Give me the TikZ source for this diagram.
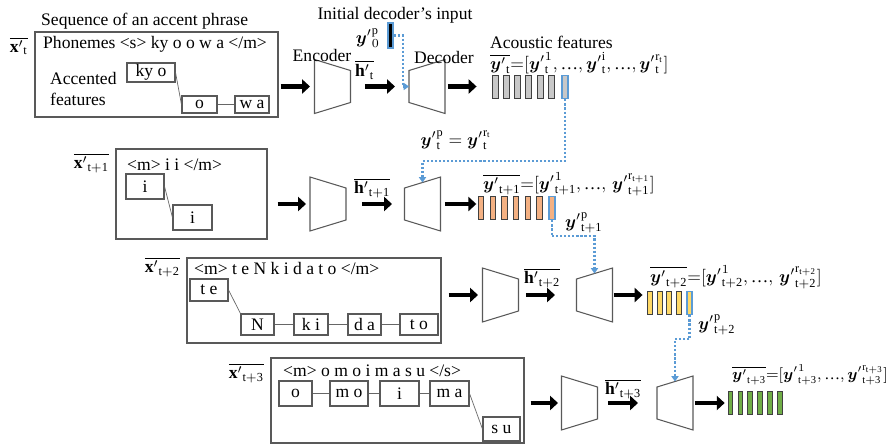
\documentclass[tikz,border=0pt]{standalone}
\usepackage{amsmath}
\usepackage{fontspec}
\setmainfont{Liberation Serif}
\usetikzlibrary{arrows.meta}

\definecolor{lineblue}{HTML}{5B9BD5}
\definecolor{bargray}{HTML}{C8C8C8}
\definecolor{barorange}{HTML}{F4B183}
\definecolor{baryellow}{HTML}{FFD966}
\definecolor{bargreen}{HTML}{70AD47}

\newcommand{\yp}{{\boldsymbol{y}'}}
\newcommand{\xp}{{\mathbf{x}'}}
\newcommand{\hp}{{\mathbf{h}'}}
\newcommand{\ellip}{\text{…}}

\begin{document}
\begin{tikzpicture}[
    x=0.02cm, y=-0.02cm,
    phrase/.style 2 args={draw=black!65, line width=0.7pt, minimum width={#1*0.02cm}, minimum height={#2*0.02cm}, inner sep=0pt},
    syl/.style 2 args={draw=black!65, line width=0.6pt, minimum width={#1*0.02cm}, minimum height={#2*0.02cm}, inner sep=0pt},
    link/.style={black!60, line width=0.4pt},
    coder/.style={minimum width=0.72cm, minimum height=1.08cm, inner sep=0pt, outer sep=0pt},
    coderline/.style={draw=black!65, line width=0.6pt, line join=miter},
    fat/.style={-{Triangle[length=4.5pt,width=8pt]}, line width=2.4pt},
    feed/.style={-{Triangle[length=3pt,width=4pt]}, lineblue, dash pattern=on 1.2pt off 1.1pt, line width=1.2pt},
    bar/.style={draw=black!75, line width=0.5pt, minimum width=#1, minimum height=0.46cm, inner sep=0pt},
    predbar/.style={draw=lineblue, line width=1pt},
]
    \useasboundingbox (0,0) rectangle (894,447);

    % Accent phrase t
    \node[anchor=west] (seq) at (35,21) {Sequence of an accent phrase};
    \node[phrase={243}{85}] (x1) at (156.5,74.5) {};
    \node[anchor=east] (x1lab) at (34,46) {$\overline{\xp_{\mathrm{t}}}$};
    \node[anchor=west] (ph1) at (37,44) {Phonemes <s> ky o o w a </m>};
    \node[anchor=west, align=left] (acc) at (44,89) {Accented\\features};
    \node[syl={48}{19}] (ky) at (151,72.5) {ky o};
    \node[syl={35}{17}] (o1) at (199.5,104.5) {o};
    \node[syl={34}{17}] (wa) at (252,104.5) {w a};
    \draw[link] (ky.east) -- (o1.west);
    \draw[link] (o1) -- (wa);

    % Accent phrase t+1
    \node[phrase={151}{90}] (x2) at (191.5,194) {};
    \node[anchor=east] (x2lab) at (115,163) {$\overline{\xp_{\mathrm{t+1}}}$};
    \node[anchor=west] (ph2) at (121,165) {<m> i i </m>};
    \node[syl={38}{25}] (i1) at (145,186.5) {i};
    \node[syl={39}{25}] (i2) at (192.5,217.5) {i};
    \draw[link] (i1.east) -- (i2.west);

    % Accent phrase t+2
    \node[phrase={254}{85}] (x3) at (314,300.5) {};
    \node[anchor=east] (x3lab) at (186,267) {$\overline{\xp_{\mathrm{t+2}}}$};
    \node[anchor=west] (ph3) at (188,268) {<m> t e N k i d a t o </m>};
    \node[syl={38}{22}] (te) at (209,290) {t e};
    \node[syl={33}{21}] (nn) at (257.5,324.5) {N};
    \node[syl={34}{21}] (ki) at (311,324.5) {k i};
    \node[syl={33}{21}] (da) at (364.5,324.5) {d a};
    \node[syl={38}{21}] (to) at (419,324.5) {t o};
    \draw[link] (te.east) -- (nn.north west);
    \draw[link] (nn) -- (ki);
    \draw[link] (ki) -- (da);
    \draw[link] (da) -- (to);

    % Accent phrase t+3
    \node[phrase={253}{85}] (x4) at (397.5,400.5) {};
    \node[anchor=east] (x4lab) at (270,373) {$\overline{\xp_{\mathrm{t+3}}}$};
    \node[anchor=west] (ph4) at (277,371) {<m> o m o i m a s u </s>};
    \node[syl={33}{25}] (oo) at (295.5,393.5) {o};
    \node[syl={38}{25}] (mo) at (349,393.5) {m o};
    \node[syl={39}{25}] (ii) at (399.5,393.5) {i};
    \node[syl={39}{25}] (ma) at (449.5,393.5) {m a};
    \node[syl={37}{24}] (su) at (501.5,429) {s u};
    \draw[link] (oo) -- (mo);
    \draw[link] (mo) -- (ii);
    \draw[link] (ii) -- (ma);
    \draw[link] (ma.east) -- (su.west);

    % Encoders and decoders
    \node[coder] (e1) at (332.5,86.5) {};
    \node[coder] (d1) at (427,86.5) {};
    \node[coder] (e2) at (328,204) {};
    \node[coder] (d2) at (422.5,204) {};
    \node[coder] (e3) at (500.5,295) {};
    \node[coder] (d3) at (594.5,295) {};
    \node[coder] (e4) at (579.5,403) {};
    \node[coder] (d4) at (675,403) {};
    \foreach \n in {e1,e2,e3,e4}
        \draw[coderline] (\n.north west) -- ([yshift=-0.22cm]\n.north east)
            -- ([yshift=0.22cm]\n.south east) -- (\n.south west) -- cycle;
    \foreach \n in {d1,d2,d3,d4}
        \draw[coderline] ([yshift=-0.22cm]\n.north west) -- (\n.north east)
            -- (\n.south east) -- ([yshift=0.22cm]\n.south west) -- cycle;
    \node (enclab) at (322,55) {Encoder};
    \node (declab) at (444,57) {Decoder};

    % Hidden vectors
    \node[anchor=west] (h1) at (349,70) {$\overline{\hp_{\mathrm{t}}}$};
    \node[anchor=west] (h2) at (348,188) {$\overline{\hp_{\mathrm{t+1}}}$};
    \node[anchor=west] (h3) at (518,278) {$\overline{\hp_{\mathrm{t+2}}}$};
    \node[anchor=west] (h4) at (599,389) {$\overline{\hp_{\mathrm{t+3}}}$};

    % Acoustic feature frames
    \foreach \i in {1,...,6}
        \node[bar=0.12cm, fill=bargray] (g-\i) at ({495+(\i-1)*11.3},87) {};
    \node[bar=0.12cm, fill=bargray, predbar] (g-7) at (565,87) {};
    \foreach \i in {1,...,6}
        \node[bar=0.11cm, fill=barorange] (o-\i) at ({481+(\i-1)*11.7},208) {};
    \node[bar=0.11cm, fill=barorange, predbar] (o-7) at (552,208) {};
    \foreach \i in {1,...,4}
        \node[bar=0.1cm, fill=baryellow] (yb-\i) at ({650+(\i-1)*9.7},303) {};
    \node[bar=0.1cm, fill=baryellow, predbar] (yb-5) at (689.5,303) {};
    \foreach \i in {1,...,6}
        \node[bar=0.095cm, fill=bargreen] (gr-\i) at ({730.5+(\i-1)*9.9},403) {};

    \node[anchor=west] (acoustic) at (484,42) {Acoustic features};
    \node[anchor=west] (f1) at (484,63)
        {$\overline{\yp_{\mathrm{t}}}{=}[\yp^{1}_{\mathrm{t}},\ellip,\yp^{\mathrm{i}}_{\mathrm{t}},\ellip,\yp^{\mathrm{r}_{\mathrm{t}}}_{\mathrm{t}}]$};
    \node[anchor=west] (f2) at (477,184)
        {$\overline{\yp_{\mathrm{t+1}}}{=}[\yp^{1}_{\mathrm{t+1}},\ellip,\,\yp^{\mathrm{r}_{\mathrm{t+1}}}_{\mathrm{t+1}}]$};
    \node[anchor=west] (f3) at (644,277)
        {$\overline{\yp_{\mathrm{t+2}}}{=}[\yp^{1}_{\mathrm{t+2}},\ellip,\,\yp^{\mathrm{r}_{\mathrm{t+2}}}_{\mathrm{t+2}}]$};
    \node[anchor=west, font=\small] (f4) at (726,375)
        {$\overline{\yp_{\mathrm{t+3}}}{=}[\yp^{1}_{\mathrm{t+3}},\ellip,\yp^{\mathrm{r}_{\mathrm{t+3}}}_{\mathrm{t+3}}]$};

    % Initial decoder input
    \node (init) at (395,15) {Initial decoder’s input};
    \node[draw=lineblue, line width=1pt, fill=black, minimum width=0.1cm, minimum height=0.5cm, inner sep=0pt] (p0) at (390.5,35.5) {};
    \node[anchor=east] (p0lab) at (386,38) {$\yp^{\mathrm{p}}_{0}$};

    % Previous frame labels
    \node (p1lab) at (456,140) {$\yp^{\mathrm{p}}_{\mathrm{t}} = \yp^{\mathrm{r}_{\mathrm{t}}}_{\mathrm{t}}$};
    \node[anchor=west] (p2lab) at (559,223) {$\yp^{\mathrm{p}}_{\mathrm{t+1}}$};
    \node[anchor=west] (p3lab) at (692,325) {$\yp^{\mathrm{p}}_{\mathrm{t+2}}$};

    % Thick arrows
    \draw[fat, shorten <=0.04cm, shorten >=0.09cm] (x1.east |- e1) -- (e1);
    \draw[fat, shorten <=0.29cm, shorten >=0.28cm] (e1) -- (d1);
    \draw[fat, shorten <=0.06cm, shorten >=0.3cm] (d1) -- (d1 -| g-1.west);
    \draw[fat, shorten <=0.2cm, shorten >=0.08cm] (x2.east |- e2) -- (e2);
    \draw[fat, shorten <=0.32cm, shorten >=0.25cm] (e2) -- (d2);
    \draw[fat, shorten <=0.09cm, shorten >=0.03cm] (d2) -- (d2 -| o-1.west);
    \draw[fat, shorten <=0.14cm, shorten >=0.09cm] (x3.east |- e3) -- (e3);
    \draw[fat, shorten <=0.15cm, shorten >=0.43cm] (e3) -- (d3);
    \draw[fat, shorten <=0.03cm, shorten >=0.09cm] (d3) -- (d3 -| yb-1.west);
    \draw[fat, shorten <=0.12cm, shorten >=0.07cm] (x4.east |- e4) -- (e4);
    \draw[fat, shorten <=0.21cm, shorten >=0.38cm] (e4) -- (d4);
    \draw[fat, shorten <=0.04cm, shorten >=0.06cm] (d4) -- (d4 -| gr-1.west);

    % Dotted feedback of the last frame
    \draw[feed] (p0.east) -- ++(9,0) |- (d1);
    \draw[feed] (g-7.south) -- ++(0,62) -| ([yshift=-0.11cm]d2.north);
    \draw[feed] (o-7.south) -- ++(0,16) -| ([yshift=-0.11cm]d3.north);
    \draw[feed] (yb-5.south) -- ++(0,24) -| ([yshift=-0.11cm]d4.north);

\end{tikzpicture}
\end{document}
